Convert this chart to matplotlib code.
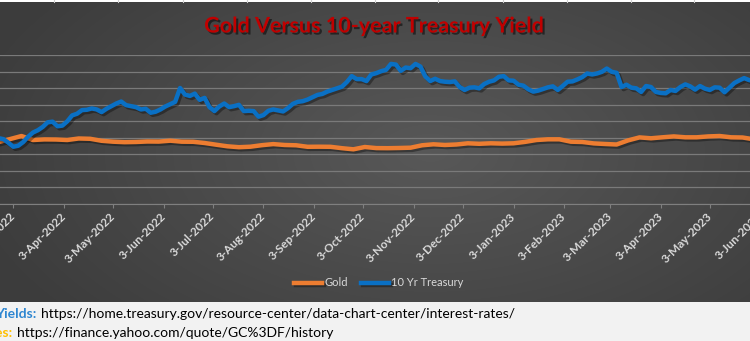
import numpy as np
import pandas as pd
import matplotlib
matplotlib.use("Agg")
import matplotlib.pyplot as plt
import matplotlib.dates as mdates
import matplotlib.patheffects as pe
from matplotlib.patches import Rectangle
from matplotlib.lines import Line2D

# 10 yr treasury yield (%), read every 3 days from 22-Feb-2022
tsy = [1.98, 1.95, 1.84, 1.72, 1.75, 1.86, 2.02, 2.15, 2.22, 2.32,
       2.46, 2.48, 2.34, 2.36, 2.49, 2.67, 2.72, 2.83, 2.84, 2.88,
       2.85, 2.77, 2.87, 2.95, 3.03, 3.09, 2.98, 2.95, 2.92, 2.85,
       2.87, 2.75, 2.78, 2.85, 2.94, 3.01, 3.08, 3.50, 3.30, 3.26,
       3.33, 3.14, 3.20, 2.92, 2.80, 2.94, 3.03, 2.92, 2.95, 2.99,
       2.80, 2.81, 2.80, 2.63, 2.68, 2.81, 2.85, 2.82, 2.79, 2.89,
       3.02, 3.08, 3.10, 3.15, 3.22, 3.29, 3.32, 3.39, 3.44, 3.49,
       3.54, 3.68, 3.86, 3.77, 3.77, 3.71, 3.91, 3.95, 4.01, 4.05,
       4.23, 4.21, 4.02, 4.12, 4.10, 4.23, 4.15, 3.85, 3.71, 3.78,
       3.71, 3.69, 3.68, 3.70, 3.53, 3.44, 3.51, 3.52, 3.49, 3.62,
       3.69, 3.73, 3.84, 3.86, 3.73, 3.72, 3.60, 3.57, 3.46, 3.39,
       3.42, 3.47, 3.52, 3.55, 3.44, 3.56, 3.69, 3.70, 3.76, 3.83,
       3.94, 3.91, 3.94, 3.99, 4.09, 3.99, 3.96, 3.53, 3.60, 3.51,
       3.49, 3.38, 3.56, 3.53, 3.38, 3.35, 3.34, 3.44, 3.41, 3.53,
       3.61, 3.55, 3.45, 3.56, 3.48, 3.44, 3.52, 3.51, 3.37, 3.51,
       3.65, 3.73, 3.80, 3.74, 3.71]

# gold price ($/oz), weekly from 22-Feb-2022, plotted in $1000s
gold = [1864, 1952, 2045, 1924, 1942, 1939, 1924, 1970, 1961, 1900,
        1873, 1858, 1864, 1879, 1876, 1903, 1873, 1870, 1833, 1782,
        1733, 1706, 1721, 1767, 1800, 1773, 1764, 1718, 1721, 1718,
        1676, 1642, 1712, 1679, 1676, 1682, 1691, 1764, 1794, 1773,
        1788, 1824, 1809, 1824, 1815, 1824, 1867, 1924, 1945, 1945,
        1873, 1864, 1821, 1803, 1788, 1912, 2003, 1976, 2006, 2033,
        2006, 2006, 2033, 2045, 2006, 2000, 1945]

tsy_dates = pd.date_range("2022-02-22", periods=len(tsy), freq="3D")
gold_dates = pd.date_range("2022-02-22", periods=len(gold), freq="7D")

W, H = 750, 341
fig = plt.figure(figsize=(7.5, 3.41), dpi=100, facecolor="#f2f2f2")

def fx(px):
    return px / W

def fy(py):
    return 1 - py / H

# white sheet strip at the top
fig.add_artist(Rectangle((0, fy(2)), 1, 2 / H, transform=fig.transFigure,
                         color="white", zorder=0))
for px in [54, 118, 183, 247, 311, 375, 438, 503, 567, 631, 694]:
    fig.add_artist(Line2D([fx(px), fx(px)], [fy(2), 1], transform=fig.transFigure,
                          color="#d0d0d0", lw=0.8))

# chart background, radial-ish gradient
bg = fig.add_axes([0, fy(302), 1, 300 / H], zorder=0)
xx, yy = np.meshgrid(np.arange(W), np.arange(300))
d = np.sqrt(((xx - 430) / 480) ** 2 + ((yy - 150) / 260) ** 2)
d = np.clip(d, 0, 1)
shade = (0x58 + (0x3c - 0x58) * d) / 255
bg.imshow(np.dstack([shade] * 3), aspect="auto", extent=(0, W, 300, 0))
bg.axis("off")

# main plot axes, wider than the picture (left and right are cropped)
x0, x1 = pd.Timestamp("2022-02-01"), pd.Timestamp("2023-06-30")
ppd = 1.635
left_px = 13.3 - (pd.Timestamp("2022-03-03") - x0).days * ppd
width_px = (x1 - x0).days * ppd
ax = fig.add_axes([fx(left_px), fy(203.5), width_px / W, (203.5 - 55) / H], zorder=2)
ax.set_facecolor("none")

shadow = [pe.SimpleLineShadow(offset=(1.5, -1.5), alpha=0.35), pe.Normal()]
ax.plot(gold_dates, np.array(gold) / 1000, color="#ED7D31", lw=3.2,
        label="Gold", path_effects=shadow, solid_joinstyle="round")
ax.plot(tsy_dates, tsy, color="#0a70c4", lw=3.2,
        label="10 Yr Treasury", path_effects=shadow, solid_joinstyle="round")

ax.set_xlim(x0, x1)
ax.set_ylim(0, 4.5)
ax.set_yticks(np.arange(0, 4.51, 0.5))
ax.yaxis.grid(True, color="#7a7a7a", lw=0.9)
ax.tick_params(axis="y", left=False, labelleft=False)
for s in ["left", "right", "top"]:
    ax.spines[s].set_visible(False)
ax.spines["bottom"].set_color("#7f7f7f")

ax.xaxis.set_major_locator(mdates.MonthLocator(bymonthday=3))
ax.xaxis.set_major_formatter(mdates.DateFormatter("%-d-%b-%Y"))
ax.tick_params(axis="x", length=3, color="#7f7f7f", pad=5,
               labelsize=8.5, labelcolor="#d9d9d9")
for lab in ax.get_xticklabels():
    lab.set_rotation(45)
    lab.set_ha("right")
    lab.set_va("center")
    lab.set_rotation_mode("anchor")
    lab.set_fontweight("bold")
    lab.set_family("Lato")

fig.legend(loc="center", bbox_to_anchor=(fx(379), fy(283)), ncol=2, frameon=False,
           handlelength=2.5, handletextpad=0.2, columnspacing=1.2,
           labelcolor="#d9d9d9", prop={"family": "Lato", "size": 8})

fig.text(fx(374), fy(26), "Gold Versus 10-year Treasury Yield", ha="center", va="center",
         color="#C00000", fontsize=15.5, fontweight="bold", family="Lato",
         path_effects=[pe.withSimplePatchShadow(offset=(1.5, -1.5), shadow_rgbFace="black",
                                                alpha=0.5)])

fig.text(fx(36.7), fy(314), "Yields:", ha="right", va="center", color="#2E86D1",
         fontsize=10, fontweight="bold", family="Lato")
fig.text(fx(40.7), fy(314), "https://home.treasury.gov/resource-center/data-chart-center/interest-rates/",
         ha="left", va="center", color="black", fontsize=10, family="Lato")
fig.text(fx(12.7), fy(333), "Gold Prices:", ha="right", va="center", color="#FFC000",
         fontsize=10, fontweight="bold", family="Lato")
fig.text(fx(16.7), fy(333), "https://finance.yahoo.com/quote/GC%3DF/history",
         ha="left", va="center", color="black", fontsize=10, family="Lato")

fig.savefig("out.png", dpi=100, facecolor=fig.get_facecolor())
